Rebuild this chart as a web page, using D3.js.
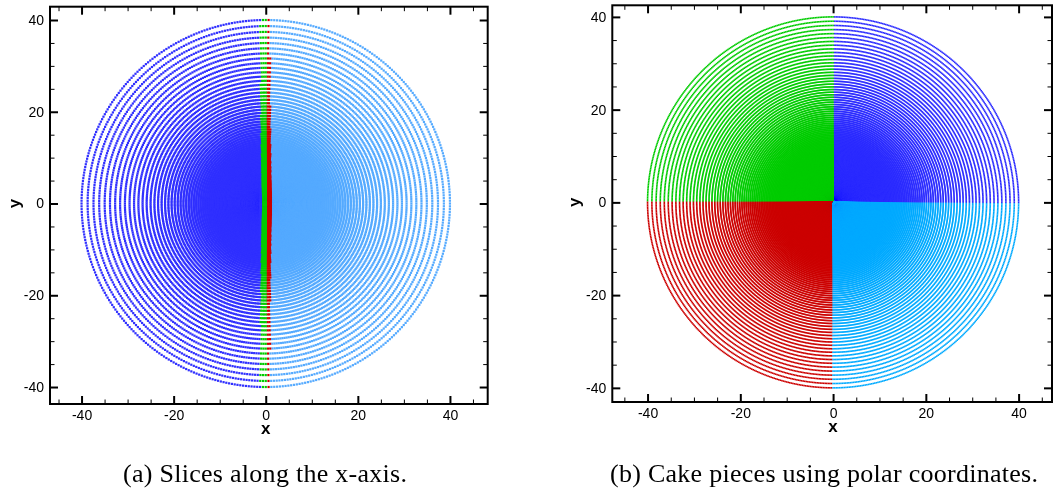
<!DOCTYPE html>
<html>
<head>
<meta charset="utf-8">
<script src="https://cdn.jsdelivr.net/npm/d3@7"></script>
<style>
  html, body { margin: 0; padding: 0; background: #fff; }
  #wrap { position: relative; width: 1053px; height: 491px; }
  canvas, svg { position: absolute; left: 0; top: 0; }
</style>
</head>
<body>
<div id="wrap">
  <canvas id="dots" width="1053" height="491"></canvas>
  <svg id="frame" width="1053" height="491"></svg>
</div>
<script>
// ---- mesh description (polar point clouds, one per panel) ----
const panelIds       = ["a", "b"];
const outerRadius    = [40, 40];        // radius of the outermost ring
const innerRadius    = [0.3, 0.3];      // rings stop below this radius
const ringRatio      = [0.967, 0.9766]; // each ring is this fraction of the next outer one
const pointsPerRing  = [408, 720];      // equally spaced angles on every ring

// panel (a): slices along x
const sliceEdges  = [-1.2, 0, 1.0];
const sliceColors = ["#3030ff", "#00cc00", "#cc0000", "#55aaff"];

// panel (b): quarter pieces by polar angle (0-90, 90-180, 180-270, 270-360 deg)
const pieceColors = ["#2c2cff", "#00cc00", "#cc0000", "#00aaff"];

// axes
const majorTicks = [-40, -20, 0, 20, 40];
const minorTicks = [-45, -35, -30, -25, -15, -10, -5, 5, 10, 15, 25, 30, 35, 45];
const captions   = ["(a) Slices along the x-axis.", "(b) Cake pieces using polar coordinates."];

// ---- layout ----
const layout = [
  { x0: 50,    x1: 487.7, xd: [-46.85, 48.2], y0: 6.7, y1: 404, yd: [42.9, -43.7],
    dot: 2.2, ylab: 20, capX: 265, capW: 284 },
  { x0: 612.3, x1: 1052,  xd: [-47.6, 47.2],  y0: 5.3, y1: 402, yd: [42.5, -43.05],
    dot: 1.6, ylab: 580, capX: 824, capW: 428 }
];

const svg = d3.select("#frame");
const ctx = document.getElementById("dots").getContext("2d");

function colorOf(p, x, j, n) {
  if (p === 0) {
    const tx = Math.abs(x) < 1e-9 ? 0 : x;
    let k = 0;
    if (tx >= sliceEdges[0]) k = 1;
    if (tx > sliceEdges[1]) k = 2;
    if (tx >= sliceEdges[2]) k = 3;
    return sliceColors[k];
  }
  return pieceColors[Math.floor(4 * j / n)];
}

const sans = "'Liberation Sans', Arial, Helvetica, sans-serif";

panelIds.forEach((id, p) => {
  const L = layout[p];
  const xs = d3.scaleLinear().domain(L.xd).range([L.x0, L.x1]);
  const ys = d3.scaleLinear().domain(L.yd).range([L.y0, L.y1]);

  // point cloud, grouped by colour
  const n = pointsPerRing[p];
  const buckets = new Map();
  for (let r = outerRadius[p]; r >= innerRadius[p]; r *= ringRatio[p]) {
    for (let j = 0; j < n; j++) {
      const t = 2 * Math.PI * j / n;
      const x = r * Math.cos(t), y = r * Math.sin(t);
      const c = colorOf(p, x, j, n);
      if (!buckets.has(c)) buckets.set(c, []);
      buckets.get(c).push([x, y]);
    }
  }
  const s = L.dot;
  buckets.forEach((pts, c) => {
    ctx.fillStyle = c;
    for (const [x, y] of pts) ctx.fillRect(xs(x) - s / 2, ys(y) - s / 2, s, s);
  });

  // axes: ticks pointing inward on all four sides
  const g = svg.append("g").attr("class", "panel-" + id);
  const W = L.x1 - L.x0, H = L.y1 - L.y0;
  const inX = v => v >= L.xd[0] && v <= L.xd[1];
  const inY = v => v <= L.yd[0] && v >= L.yd[1];
  const xMaj = majorTicks.filter(inX), xMin = minorTicks.filter(inX);
  const yMaj = majorTicks.filter(inY), yMin = minorTicks.filter(inY);

  const axes = [
    [() => d3.axisBottom(xs), `translate(0,${L.y1})`, xMaj, xMin, true],
    [() => d3.axisTop(xs),    `translate(0,${L.y0})`, xMaj, xMin, false],
    [() => d3.axisLeft(ys),   `translate(${L.x0},0)`, yMaj, yMin, true],
    [() => d3.axisRight(ys),  `translate(${L.x1},0)`, yMaj, yMin, false]
  ];
  axes.forEach(([mk, tr, maj, min, labels]) => {
    const gm = g.append("g").attr("transform", tr)
      .call(mk().tickValues(min).tickSize(-4.5).tickFormat(""));
    gm.select(".domain").remove();
    gm.selectAll(".tick line").attr("stroke", "#000").attr("stroke-width", 1);

    const gM = g.append("g").attr("transform", tr)
      .call(mk().tickValues(maj).tickSize(-8).tickPadding(labels ? 6 : 0)
        .tickFormat(labels ? (d => String(d)) : ""));
    gM.select(".domain").remove();
    gM.selectAll(".tick line").attr("stroke", "#000").attr("stroke-width", 2);
    gM.selectAll(".tick text")
      .attr("fill", "#000")
      .style("font-family", sans)
      .style("font-size", "14px");
  });

  g.append("rect")
    .attr("x", L.x0).attr("y", L.y0).attr("width", W).attr("height", H)
    .attr("fill", "none").attr("stroke", "#000").attr("stroke-width", 2);

  // axis titles
  g.append("text")
    .attr("x", xs(0)).attr("y", L.y1 + 30)
    .attr("text-anchor", "middle")
    .style("font-family", sans)
    .style("font-weight", "bold").style("font-size", "17px")
    .text("x");
  g.append("text")
    .attr("transform", `translate(${L.ylab},${ys(0)}) rotate(-90)`)
    .attr("text-anchor", "middle")
    .style("font-family", sans)
    .style("font-weight", "bold").style("font-size", "17px")
    .text("y");

  // caption
  svg.append("text")
    .attr("x", L.capX).attr("y", 482)
    .attr("text-anchor", "middle")
    .attr("textLength", L.capW)
    .attr("lengthAdjust", "spacing")
    .style("font-family", "'Liberation Serif', 'Times New Roman', serif")
    .style("font-size", "26px")
    .text(captions[p]);
});
</script>
</body>
</html>
